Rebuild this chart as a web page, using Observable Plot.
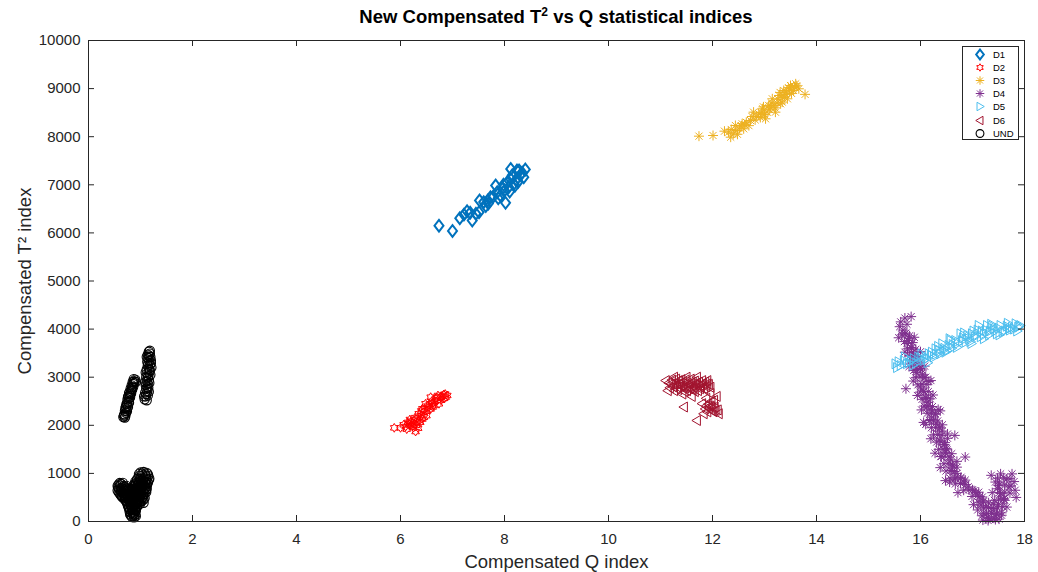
<!DOCTYPE html>
<html><head><meta charset="utf-8">
<script src="https://cdn.jsdelivr.net/npm/d3@7"></script>
<script src="https://cdn.jsdelivr.net/npm/@observablehq/plot@0.6"></script>
<style>
body{margin:0;background:#fff;font-family:"Liberation Sans",Arial,Helvetica,sans-serif;}
#wrap{position:relative;width:1038px;height:572px;overflow:hidden;}
#title{height:30px;width:1038px;position:relative;}
#title span{position:absolute;left:556px;transform:translateX(-50%);top:6px;font-weight:bold;font-size:18.5px;white-space:nowrap;color:#000;}
#title sup{font-size:12px;vertical-align:super;line-height:0;}
#legend{position:absolute;left:962px;top:46px;width:55px;height:92px;border:1px solid #262626;background:#fff;}
.row{position:absolute;left:0;height:13px;width:55px;font-size:9.5px;color:#000;}
.row svg{position:absolute;left:10px;top:0;}
.row span{position:absolute;left:30px;top:1px;line-height:11px;}
</style></head>
<body>
<div id="wrap">
<div id="title"><span>New Compensated T<sup>2</sup> vs Q statistical indices</span></div>
<div id="chart"></div>
<div id="legend"></div>
</div>
<script>
const seriesNames = ["D1","D2","D3","D4","D5","D6","UND"];
const seriesColors = ["#0072BD","#FF0000","#EDB120","#7E2F8E","#4DBEEE","#A2142F","#000000"];
const xTicks = [0,2,4,6,8,10,12,14,16,18];
const yTicks = [0,1000,2000,3000,4000,5000,6000,7000,8000,9000,10000];
const xLabel = "Compensated Q index";
const yLabel = "Compensated T\u00B2 index";

const d1 = [[6.74,6150],[7.0,6040],[7.14,6306],[7.28,6450],[7.38,6258],[7.51,6430],[7.52,6674],[7.68,6674],[7.73,6742],[7.83,6985],[8.02,6625],[8.12,7330],[8.24,7297],[8.40,7320],[8.37,7158],[8.18,7020],[7.96,6917],[7.86,6846],[7.60,6640],[7.69,6610],[8.08,6950],[8.30,7200],[8.22,7100],[8.10,6860],[7.92,6780],[7.78,6750],[8.28,7300],[7.45,6400],[7.34,6420],[8.15,7200],[8.05,7050],[8.20,6980],[8.34,7250],[8.00,6880],[7.88,6720],[7.64,6560],[8.26,7060],[8.12,7120],[7.98,7000],[7.22,6380]];
const d2 = [[5.88,1947],[6.0,1947],[6.29,1870],[6.19,1996],[6.42,2343],[6.58,2585],[6.71,2516],[6.83,2640],[6.90,2620],[6.26,2100],[6.45,2168],[6.35,2239],[6.51,2308],[6.64,2412],[6.77,2585],[6.10,1975],[6.16,2031],[6.38,2064],[6.48,2447],[6.74,2447],[6.87,2585],[6.22,2050],[6.30,2000],[6.55,2380],[6.60,2500],[6.68,2560],[6.40,2200],[6.12,1920],[6.25,1950],[6.62,2460],[6.80,2600],[6.33,2150],[6.20,2080],[6.28,2160],[6.36,2110],[6.44,2270],[6.52,2400],[6.58,2340],[6.66,2500],[6.72,2620],[6.84,2560],[6.14,2060],[6.24,1990],[6.40,2300],[6.56,2440],[6.70,2580],[6.18,2120],[6.32,2060],[6.46,2340],[6.50,2200],[6.62,2380],[6.78,2520],[6.86,2650],[6.06,2010],[6.34,1940],[6.42,2130]];
const d3 = [[11.74,8011],[12.01,8025],[12.23,8115],[12.35,7990],[12.44,8233],[12.57,8268],[12.73,8337],[12.79,8510],[13.02,8372],[12.96,8580],[13.12,8613],[13.21,8510],[13.15,8788],[13.28,8857],[13.37,8961],[13.50,9064],[13.60,9099],[13.66,8996],[13.78,8880],[13.44,8788],[13.31,8684],[13.05,8510],[12.89,8476],[12.60,8164],[12.47,8129],[12.31,8094],[13.56,8961],[12.40,8060],[12.65,8300],[12.84,8420],[13.40,8880],[13.24,8700],[13.08,8650],[13.48,8990],[12.52,8180],[12.70,8230],[12.92,8400],[13.00,8460],[13.10,8560],[13.18,8650],[13.26,8780],[13.34,8820],[13.42,8930],[13.52,8900],[13.58,9040],[13.34,8720],[12.98,8620],[12.82,8350],[12.55,8220],[13.20,8600],[12.48,8050],[12.62,8250],[12.76,8420],[12.94,8500],[13.14,8700],[13.30,8920],[13.46,9020],[13.62,9060],[13.38,8820],[12.36,8150]];
const d4 = [[15.62,4150],[15.70,4230],[15.82,4260],[15.60,4050],[15.66,3980],[15.74,4100],[15.70,3900],[15.78,3800],[15.74,3700],[15.82,3620],[15.86,3520],[15.80,3450],[15.90,3400],[15.86,3300],[15.95,3250],[16.00,3180],[15.92,3100],[16.04,3050],[16.10,3000],[16.20,2930],[15.72,2760],[16.00,2800],[16.06,2700],[16.10,2580],[16.14,2480],[16.12,2380],[16.22,2300],[16.28,2230],[16.38,2300],[16.06,2060],[16.20,2120],[16.30,2050],[16.36,1960],[16.42,1880],[16.52,1820],[16.66,1790],[16.36,1690],[16.46,1600],[16.50,1520],[16.40,1350],[16.48,1430],[16.58,1280],[16.70,1250],[16.86,1340],[16.62,1160],[16.60,1060],[16.70,1000],[16.78,920],[16.56,820],[16.66,880],[16.84,820],[16.92,720],[17.00,660],[17.06,600],[17.14,520],[17.20,430],[17.10,240],[17.16,340],[17.26,300],[17.30,90],[17.22,160],[17.36,200],[17.46,160],[17.42,440],[17.50,360],[17.54,580],[17.44,40],[17.20,30],[17.30,20],[17.60,480],[17.70,720],[17.52,780],[17.36,960],[17.54,990],[17.66,880],[17.76,990],[17.82,650],[17.62,440],[17.38,600],[17.48,680],
[15.64,3880],[15.72,3920],[15.79,3860],[15.69,3740],[15.77,3760],[15.85,3720],[15.75,3590],[15.83,3610],[15.91,3580],[15.79,3440],[15.87,3460],[15.95,3430],[15.83,3290],[15.91,3310],[15.99,3300],[15.87,3140],[15.95,3160],[16.03,3150],[15.91,2990],[15.99,3010],[16.07,2990],[15.95,2840],[16.03,2860],[16.11,2850],[15.99,2690],[16.07,2710],[16.15,2700],[16.03,2540],[16.11,2560],[16.19,2550],[16.07,2400],[16.15,2410],[16.23,2390],[16.13,2250],[16.21,2260],[16.29,2240],[16.17,2100],[16.25,2110],[16.33,2090],[16.21,1950],[16.29,1960],[16.37,1940],[16.25,1800],[16.33,1810],[16.41,1790],[16.31,1650],[16.39,1660],[16.47,1640],[16.35,1500],[16.43,1510],[16.51,1490],[16.39,1350],[16.47,1360],[16.55,1340],[16.45,1200],[16.53,1210],[16.61,1190],[16.49,1050],[16.57,1060],[16.65,1040],[16.57,900],[16.67,910],[16.77,890],[16.67,780],[16.77,790],[16.87,770],[16.83,650],[16.93,660],[17.03,640],[16.99,520],[17.09,530],[17.19,510],[17.11,400],[17.21,410],[17.31,390],[17.21,280],[17.31,290],[17.41,270],[17.27,160],[17.37,170],[17.47,150],[17.31,60],[17.41,70],[17.51,50],[17.48,300],[17.58,310],[17.50,450],[17.60,460],[17.52,600],[17.62,610],[17.72,590],[17.50,750],[17.62,760],[17.74,740],[17.48,900],[17.60,910],[17.72,890],
[15.58,3820],[15.88,3830],[15.70,3520],[16.00,3530],[15.78,3220],[16.08,3230],[15.86,2920],[16.16,2910],[15.94,2620],[16.24,2630],[16.02,2320],[16.34,2330],[16.10,2020],[16.42,2010],[16.20,1720],[16.52,1730],[16.28,1420],[16.60,1410],[16.38,1120],[16.70,1130],[16.48,850],[16.86,860],[16.72,600],[17.12,610],[17.02,350],[17.40,360],[17.18,120],[17.56,130],[17.44,820],[17.80,830],[17.84,500],[17.66,300],[17.56,180]];
const d5 = [[15.52,3278],[15.68,3347],[15.87,3382],[16.06,3347],[16.16,3486],[16.29,3590],[16.42,3694],[16.51,3555],[16.67,3763],[16.77,3902],[16.87,3728],[16.99,3902],[17.12,4075],[17.22,3902],[17.41,4006],[17.54,4075],[17.70,4006],[17.83,4110],[17.92,4075],[16.58,3763],[16.38,3486],[17.28,4075],[17.47,3902],[16.93,3798],[15.62,3243],[15.78,3300],[15.96,3420],[16.22,3520],[16.46,3600],[16.62,3680],[16.82,3820],[17.05,3840],[17.18,3960],[17.34,3960],[17.62,3960],[17.76,4040],[16.10,3420],[16.34,3640],
[15.58,3320],[15.74,3280],[15.82,3340],[15.92,3300],[16.00,3400],[16.12,3380],[16.20,3460],[16.26,3420],[16.36,3560],[16.48,3520],[16.54,3660],[16.60,3600],[16.72,3700],[16.80,3760],[16.90,3860],[16.96,3740],[17.02,3960],[17.08,3880],[17.16,3840],[17.26,3980],[17.32,3880],[17.38,4060],[17.44,3960],[17.50,4020],[17.58,3940],[17.66,4060],[17.72,3980],[17.80,4000],[17.88,4040],
[15.55,3200],[15.70,3420],[15.86,3250],[16.02,3480],[16.14,3300],[16.30,3480],[16.44,3560],[16.56,3800],[16.70,3620],[16.84,3920],[16.98,3700],[17.10,3980],[17.22,3800],[17.36,4100],[17.52,3880],[17.68,4120],[17.86,3960],[17.90,4060]];
const d6 = [[11.10,2930],[11.14,2720],[11.20,2860],[11.26,3000],[11.26,2720],[11.32,2800],[11.35,2930],[11.38,2880],[11.42,2650],[11.45,2380],[11.48,2780],[11.51,2720],[11.55,2850],[11.58,2960],[11.62,2900],[11.64,2790],[11.68,2840],[11.70,3000],[11.72,2720],[11.77,2830],[11.80,2930],[11.84,2760],[11.90,2930],[11.93,2850],[11.96,2790],[11.96,2660],[11.80,2450],[11.86,2340],[11.93,2350],[12.00,2300],[12.06,2310],[12.12,2240],[11.70,2100],[11.83,2240],[12.03,2520],[11.88,2560],[11.60,2600],[11.30,2960],[11.50,3000],[11.40,2950],[11.66,2700],[12.08,2600],
[11.18,2780],[11.22,2940],[11.28,2860],[11.34,2740],[11.40,2820],[11.44,2900],[11.46,2700],[11.52,2880],[11.56,2760],[11.60,2820],[11.66,2920],[11.74,2900],[11.76,2760],[11.82,2860],[11.86,2900],[11.88,2800],[11.92,2440],[11.98,2380],[12.02,2280],[11.90,2280],[12.10,2320],[11.98,2500],
[11.16,2880],[11.24,2800],[11.36,2860],[11.48,2940],[11.54,2800],[11.62,2740],[11.70,2880],[11.78,2780],[11.90,2860],[11.58,2880],[11.44,2780],[11.96,2400],[12.04,2380],[11.88,2400]];
const und = [[0.67,2170],[0.70,2160],[0.69,2230],[0.72,2260],[0.70,2300],[0.73,2330],[0.72,2390],[0.75,2410],[0.74,2460],[0.77,2490],[0.75,2540],[0.78,2560],[0.77,2610],[0.80,2640],[0.79,2690],[0.82,2710],[0.81,2760],[0.84,2790],[0.83,2830],[0.86,2860],[0.85,2900],[0.88,2920],[0.87,2960],[0.90,2950],[0.91,2900],
[0.71,2200],[0.74,2290],[0.76,2380],[0.78,2470],[0.80,2580],[0.82,2660],[0.84,2740],[0.86,2800],[0.88,2880],[0.68,2200],[0.71,2360],[0.73,2440],[0.76,2590],[0.78,2670],
[1.08,2540],[1.12,2520],[1.10,2600],[1.14,2620],[1.09,2680],[1.13,2700],[1.11,2760],[1.15,2780],[1.10,2840],[1.14,2860],[1.12,2920],[1.16,2940],[1.11,3000],[1.15,3020],[1.13,3080],[1.17,3100],[1.12,3160],[1.16,3180],[1.14,3240],[1.18,3260],[1.13,3320],[1.17,3340],[1.15,3400],[1.19,3420],[1.14,3470],[1.18,3490],[1.16,3530],[1.20,3350],[1.21,3200],[1.19,3050],
[1.07,2600],[1.11,2650],[1.16,2700],[1.13,2800],[1.09,2900],[1.17,2880],[1.14,2990],[1.10,3100],[1.18,3150],[1.15,3290],[1.20,3290],[1.16,3450],[1.12,3420],[1.18,3550],
[1.00,1020],[1.06,1030],[1.12,1010],[0.98,950],[1.04,960],[1.10,940],[1.15,950],[0.94,890],[1.00,880],[1.06,900],[1.12,880],[1.17,890],[0.90,830],[0.96,820],[1.02,840],[1.08,830],[1.14,820],
[0.58,770],[0.63,780],[0.88,770],[0.94,760],[1.00,770],[1.06,760],[1.12,770],
[0.57,710],[0.63,700],[0.69,720],[0.75,700],[0.86,710],[0.92,700],[0.98,710],[1.04,720],[1.10,700],
[0.56,645],[0.62,650],[0.68,640],[0.74,645],[0.80,650],[0.86,640],[0.92,645],[0.98,650],[1.04,640],[1.10,645],
[0.60,580],[0.66,585],[0.72,575],[0.78,580],[0.84,585],[0.90,575],[0.96,580],[1.02,585],[1.08,575],
[0.64,520],[0.70,515],[0.76,525],[0.82,520],[0.88,515],[0.94,525],[1.00,520],[1.05,515],
[0.70,455],[0.76,460],[0.82,450],[0.88,455],[0.94,460],[1.00,450],[1.06,455],
[0.74,395],[0.80,400],[0.86,390],[0.92,395],[0.98,400],[1.06,390],
[0.76,330],[0.82,335],[0.88,325],[0.94,330],
[0.78,270],[0.84,275],[0.90,265],
[0.79,210],[0.85,205],[0.91,215],
[0.80,146],[0.86,150],[0.90,140],
[0.84,90],[0.88,85],
[0.97,985],[1.03,990],[1.09,980],[1.14,985],[0.93,860],[0.99,865],[1.05,855],[1.11,860],[1.16,865],
[0.60,800],[0.66,805],[0.91,800],[0.97,795],[1.03,800],[1.09,805],[1.14,800],
[0.56,740],[0.61,745],[0.67,735],[0.73,740],[0.89,745],[0.95,735],[1.01,740],[1.07,745],[1.12,735],
[0.59,675],[0.65,680],[0.71,670],[0.77,675],[0.83,680],[0.89,670],[0.95,675],[1.01,680],[1.07,670],[1.12,675],
[0.58,610],[0.64,615],[0.70,605],[0.76,610],[0.82,615],[0.88,605],[0.94,610],[1.00,615],[1.06,605],[1.11,610],
[0.62,550],[0.68,555],[0.74,545],[0.80,550],[0.86,555],[0.92,545],[0.98,550],[1.04,555],
[0.67,485],[0.73,490],[0.79,480],[0.85,485],[0.91,490],[0.97,480],[1.03,485],[1.08,490],
[0.72,425],[0.78,430],[0.84,420],[0.90,425],[0.96,430],[1.02,420],
[0.75,360],[0.81,365],[0.87,355],[0.93,360],[0.99,365],
[0.77,300],[0.83,305],[0.89,295],[0.93,300],
[0.80,240],[0.86,245],[0.90,235],[0.82,180],[0.88,175],[0.82,115],[0.87,120],[0.91,110]];

const R = s => Math.sqrt(s / Math.PI);
const symDiamond = {draw(c, s){const r=R(s); c.moveTo(0,-r*1.3); c.lineTo(r*1.0,0); c.lineTo(0,r*1.3); c.lineTo(-r*1.0,0); c.closePath();}};
const symHexagram = {draw(c, s){const r=R(s), ri=r/Math.sqrt(3); for(let i=0;i<12;i++){const a=-Math.PI/2+i*Math.PI/6, rr=i%2?ri:r; const px=rr*Math.cos(a), py=rr*Math.sin(a); if(i===0)c.moveTo(px,py); else c.lineTo(px,py);} c.closePath();}};
const symAsterisk = {draw(c, s){const r=R(s); for(let i=0;i<4;i++){const a=i*Math.PI/4; c.moveTo(-r*Math.cos(a),-r*Math.sin(a)); c.lineTo(r*Math.cos(a),r*Math.sin(a));}}};
const symTriR = {draw(c, s){const r=R(s); c.moveTo(-r*0.7,-r); c.lineTo(r,0); c.lineTo(-r*0.7,r); c.closePath();}};
const symTriL = {draw(c, s){const r=R(s); c.moveTo(r*0.7,-r); c.lineTo(-r,0); c.lineTo(r*0.7,r); c.closePath();}};
const symCircle = {draw(c, s){const r=R(s); c.moveTo(r,0); c.arc(0,0,r,0,2*Math.PI);}};

const seriesData = [d1,d2,d3,d4,d5,d6,und];
const seriesSyms = [symDiamond,symHexagram,symAsterisk,symAsterisk,symTriR,symTriL,symCircle];
const seriesR = [4.5,4.4,5,5,5,5,4.6];
const seriesSW = [2,1,1,1,1,1,1.1];

const plotH = 481;
const plotW = 936;
const axisColor = "#262626";

const dotMarks = seriesData.map((data,i) => Plot.dot(data, {
  x: d => d[0], y: d => d[1], symbol: seriesSyms[i], r: seriesR[i],
  stroke: seriesColors[i], strokeWidth: seriesSW[i], fill: "none"
}));

const chart = Plot.plot({
  width: 1038, height: 542,
  marginLeft: 88, marginRight: 14, marginTop: 10, marginBottom: 51,
  x: {domain: [0,18]},
  y: {domain: [0,10000]},
  style: {fontFamily: '"Liberation Sans",Arial,Helvetica,sans-serif', fontSize: "15px", color: axisColor, background: "white", overflow: "visible"},
  marks: [
    ...dotMarks,
    Plot.frame({stroke: axisColor, strokeWidth: 1}),
    Plot.tickX(xTicks, {x: d => d, insetTop: plotH - 6, stroke: axisColor}),
    Plot.tickX(xTicks, {x: d => d, insetBottom: plotH - 6, stroke: axisColor}),
    Plot.tickY(yTicks, {y: d => d, insetRight: plotW - 6, stroke: axisColor}),
    Plot.tickY(yTicks, {y: d => d, insetLeft: plotW - 6, stroke: axisColor}),
    Plot.axisX({ticks: xTicks, tickSize: 0, tickPadding: 12, label: null, fontSize: 15}),
    Plot.axisY({ticks: yTicks, tickSize: 0, tickPadding: 8, label: null, fontSize: 15, tickFormat: d => String(d)}),
    Plot.text([xLabel], {text: d => d, frameAnchor: "bottom", dy: 46, fontSize: 18.5, fill: axisColor}),
    Plot.text([yLabel], {text: d => d, frameAnchor: "left", textAnchor: "middle", rotate: -90, dx: -63, fontSize: 18.5, fill: axisColor})
  ]
});
document.getElementById("chart").appendChild(chart);

// legend
function pathOf(sym, size) {
  let s = "";
  const c = {
    moveTo: (x,y) => { s += `M${x},${y}`; },
    lineTo: (x,y) => { s += `L${x},${y}`; },
    closePath: () => { s += "Z"; },
    arc: (x,y,r) => { s += `M${x+r},${y}A${r},${r},0,1,1,${x-r},${y}A${r},${r},0,1,1,${x+r},${y}`; }
  };
  sym.draw(c, size);
  return s;
}
const leg = document.getElementById("legend");
seriesNames.forEach((name, i) => {
  const row = document.createElement("div");
  row.className = "row";
  row.style.top = (1 + i * 13.1) + "px";
  const rr = seriesR[i] * 0.85;
  const path = pathOf(seriesSyms[i], Math.PI * rr * rr);
  row.innerHTML = `<svg width="14" height="13" viewBox="-7 -6.5 14 13"><path d="${path}" fill="none" stroke="${seriesColors[i]}" stroke-width="${seriesSW[i]}"/></svg><span>${name}</span>`;
  leg.appendChild(row);
});
</script>
</body></html>
